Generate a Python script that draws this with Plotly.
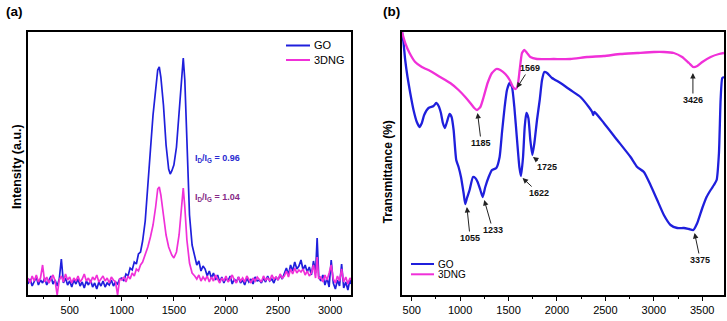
import plotly.graph_objects as go

# ---------------- Panel (a): Raman ----------------
raman_x = ([100, 120, 140, 160, 180, 200, 220, 240, 260, 280, 300, 320, 340, 360, 380, 400, 420, 440,
            460, 480, 500, 520, 540, 560, 580, 600, 620, 640, 660, 680, 700, 720, 740, 760, 780, 800,
            820, 840, 860, 880, 900, 920, 940, 960, 980]
           + [1000, 1020, 1040, 1060, 1080, 1100, 1120, 1140, 1160, 1180, 1200, 1225, 1250, 1275, 1300,
              1325, 1345, 1360, 1375, 1400, 1425, 1450, 1465, 1480, 1500, 1525, 1550, 1575, 1590, 1605,
              1625, 1650, 1675, 1700, 1720, 1740, 1760, 1780]
           + [1800, 1820, 1840, 1860, 1880, 1900, 1920, 1940, 1960, 1980, 2000, 2020, 2040, 2060, 2080,
              2100, 2120, 2140, 2160, 2180, 2200, 2220, 2240, 2260, 2280, 2300, 2320, 2340, 2360, 2380,
              2400, 2420, 2440, 2460, 2480, 2500, 2520, 2540]
           + [2560, 2580, 2600, 2620, 2640, 2660, 2680, 2700, 2720, 2740, 2760, 2780, 2800, 2820, 2840]
           + [2860, 2875, 2890]
           + [2910, 2930, 2950, 2970, 2990, 3010, 3030, 3050, 3070, 3090, 3110, 3130, 3150, 3170, 3190,
              3200])

raman_go = ([11, 16, 9, 14, 18, 10, 15, 12, 17, 10, 14, 19, 11, 15, 9, 16, 36, 12,
             17, 10, 14, 8, 15, 11, 16, 9, 13, 7, 14, 10, 15, 8, 12, 6, 13, 9,
             14, 8, 12, 10, 15, 9, 13, 11, 16]
            + [17, 14, 21, 19, 27, 25, 33, 31, 41, 43, 54, 74, 105, 145, 180,
               207, 225, 228, 218, 190, 150, 126, 121, 124, 130, 148, 185, 225, 237, 215,
               148, 80, 50, 38, 30, 34, 24, 29]
            + [26, 19, 24, 17, 22, 15, 20, 13, 18, 12, 17, 14, 19, 11, 16,
               13, 18, 12, 15, 10, 17, 13, 16, 11, 18, 14, 15, 12, 17, 13,
               19, 14, 16, 12, 18, 15, 20, 16]
            + [22, 27, 20, 30, 24, 33, 26, 29, 35, 25, 30, 23, 28, 20, 34]
            + [22, 57, 19]
            + [14, 20, 10, 17, 8, 35, 12, 6, 15, 9, 31, 7, 13, 5, 16,
               11])

raman_3dng = ([17, 12, 19, 14, 20, 13, 17, 30, 13, 18, 12, 16, 20, 14, 0, 15, 19, 13,
               21, 15, 18, 12, 17, 14, 19, 13, 16, 21, 14, 17, 12, 18, 15, 20, 13, 16,
               19, 14, 17, 12, 18, 15, 13, 0, 16]
              + [15, 18, 13, 19, 16, 22, 19, 26, 24, 30, 33, 40, 48, 58, 70,
                 88, 106, 108, 100, 80, 60, 48, 43, 40, 37, 43, 60, 92, 107, 88,
                 55, 32, 22, 19, 16, 20, 14, 18]
              + [15, 19, 13, 18, 14, 20, 16, 12, 17, 14, 19, 13, 16, 20, 15,
                 12, 18, 14, 17, 13, 19, 15, 12, 17, 14, 18, 16, 13, 19, 15,
                 17, 14, 20, 16, 18, 15, 21, 17]
              + [19, 24, 18, 26, 21, 27, 22, 25, 23, 26, 20, 24, 19, 22, 30]
              + [17, 38, 16]
              + [18, 13, 20, 15, 22, 30, 16, 12, 19, 14, 26, 13, 18, 11, 17,
                 15])

# ---------------- Panel (b): FTIR ----------------
ftir_go_x = [400, 416, 433, 457, 485, 519, 553, 581, 605, 629, 674, 726, 753, 778, 802, 822, 843,
             864, 891, 912, 933, 960, 984, 1009, 1036, 1053, 1071, 1098, 1133, 1157, 1181, 1209,
             1233, 1260, 1295, 1329, 1374, 1408, 1432, 1460, 1484, 1512, 1536, 1560, 1588, 1612,
             1629, 1650, 1667, 1684, 1705, 1725, 1746, 1767, 1794, 1822, 1846, 1870, 1898, 1949,
             2036, 2139, 2243, 2329, 2364, 2374, 2387, 2484, 2622, 2760, 2829, 2898, 2966, 3035,
             3104, 3173, 3242, 3311, 3363, 3408, 3449, 3501, 3545, 3587, 3621, 3649, 3673, 3690,
             3707, 3725]
ftir_go_y = [263, 252, 235, 218, 202, 185, 173, 168, 172, 180, 187, 189, 192, 189, 182, 172, 167,
             173, 181, 178, 165, 135, 128, 118, 102, 91, 97, 105, 118, 117, 113, 105,
             98, 108, 118, 125, 127, 138, 162, 188, 205, 212, 208, 188, 155, 128,
             119, 138, 168, 182, 177, 155, 140, 152, 175, 195, 215, 223, 222, 217,
             212, 205, 198, 188, 183, 180, 183, 172, 155, 138, 128, 123, 110, 95,
             80, 70, 67, 67, 66, 65, 72, 87, 98, 105, 110, 115, 142, 195,
             217, 218]

ftir_3dng_x = [400, 433, 478, 536, 605, 691, 795, 898, 984, 1053, 1105, 1146, 1174, 1209, 1243,
               1284, 1329, 1374, 1415, 1467, 1512, 1546, 1574, 1595, 1615, 1639, 1663, 1691, 1725,
               1794, 1967, 2139, 2311, 2484, 2656, 2829, 3001, 3104, 3207, 3293, 3363, 3408, 3449,
               3501, 3587, 3673, 3725]
ftir_3dng_y = [263, 252, 242, 233, 228, 224, 218, 212, 205, 198, 192, 187, 185, 188, 198,
               212, 222, 226, 225, 221, 215, 208, 206, 210, 225, 242, 245, 242, 238,
               236, 236, 236, 238, 239, 241, 242, 243, 243, 242, 238, 232, 228, 229,
               233, 238, 241, 242]

# peak labels for FTIR: label, arrow-head position, text position
peak_labels = ["1185", "1569", "1725", "1622", "1055", "1233", "3375", "3426"]
peak_head_x = [1180, 1586, 1752, 1645, 1070, 1249, 3421, 3404]
peak_head_y = [182, 207, 138, 117, 88, 95, 62, 222]
peak_text_x = [1218, 1717, 1896, 1810, 1104, 1338, 3480, 3404]
peak_text_y = [152, 227, 128, 102, 57, 65, 35, 195]

series_names = ["GO", "3DNG"]
x_ticks_a = [500, 1000, 1500, 2000, 2500, 3000]
x_ticks_b = [500, 1000, 1500, 2000, 2500, 3000, 3500]

BLUE = "#1f1fdc"
MAGENTA = "#f030d8"
FONT = "Liberation Sans, Arial, sans-serif"

fig = go.Figure()
fig.add_trace(go.Scatter(x=raman_x, y=raman_go, mode="lines", name=series_names[0],
                         line=dict(color=BLUE, width=1.7), xaxis="x", yaxis="y", showlegend=False))
fig.add_trace(go.Scatter(x=raman_x, y=raman_3dng, mode="lines", name=series_names[1],
                         line=dict(color=MAGENTA, width=1.7), xaxis="x", yaxis="y", showlegend=False))
fig.add_trace(go.Scatter(x=ftir_go_x, y=ftir_go_y, mode="lines", name=series_names[0],
                         line=dict(color=BLUE, width=2.3, shape="spline", smoothing=0.5),
                         xaxis="x2", yaxis="y2", showlegend=False))
fig.add_trace(go.Scatter(x=ftir_3dng_x, y=ftir_3dng_y, mode="lines", name=series_names[1],
                         line=dict(color=MAGENTA, width=2.3, shape="spline", smoothing=0.5),
                         xaxis="x2", yaxis="y2", showlegend=False))

ydom = [1 - 295 / 321, 1 - 32 / 321]
xax_common = dict(showline=True, linecolor="black", linewidth=1.5, mirror=True, showgrid=False,
                  zeroline=False, ticks="outside", ticklen=4, tickwidth=1.2, tickcolor="black",
                  tickfont=dict(family=FONT, size=11, color="black"),
                  minor=dict(ticks="outside", ticklen=2.5, tickwidth=1, tickcolor="black", dtick=250))
yax_common = dict(showline=True, linecolor="black", linewidth=1.5, mirror=True, showgrid=False,
                  zeroline=False, showticklabels=False, ticks="", range=[0, 263], domain=ydom)

fig.update_layout(
    width=727, height=321,
    margin=dict(l=0, r=0, t=0, b=0),
    paper_bgcolor="white", plot_bgcolor="white",
    font=dict(family=FONT, color="black"),
    xaxis=dict(domain=[28 / 727, 351 / 727], range=[100, 3200], tickvals=x_ticks_a, **xax_common),
    yaxis=dict(anchor="x", **yax_common),
    xaxis2=dict(domain=[402 / 727, 724 / 727], range=[400, 3725], tickvals=x_ticks_b, anchor="y2",
                **xax_common),
    yaxis2=dict(anchor="x2", **yax_common),
)


def px_x(p):
    return p / 727


def px_y(p):
    return 1 - p / 321


ann = []
ann.append(dict(text="<b>(a)</b>", x=px_x(14.7), y=px_y(11.7), xref="paper", yref="paper",
                xanchor="center", yanchor="middle", showarrow=False, font=dict(size=13.5, family=FONT)))
ann.append(dict(text="<b>(b)</b>", x=px_x(391), y=px_y(11.7), xref="paper", yref="paper",
                xanchor="center", yanchor="middle", showarrow=False, font=dict(size=13.5, family=FONT)))
ann.append(dict(text="<b>Intensity (a.u.)</b>", x=px_x(17), y=px_y(167), xref="paper", yref="paper",
                xanchor="center", yanchor="middle", textangle=-90, showarrow=False,
                font=dict(size=12.5, family=FONT)))
ann.append(dict(text="<b>Transmittance (%)</b>", x=px_x(387), y=px_y(172.5), xref="paper",
                yref="paper", xanchor="center", yanchor="middle", textangle=-90, showarrow=False,
                font=dict(size=12, family=FONT)))
ann.append(dict(text="<b>I<sub>D</sub>/I<sub>G</sub> = 0.96</b>", x=1688, y=137, xref="x", yref="y",
                xanchor="left", yanchor="middle", showarrow=False,
                font=dict(size=9, family=FONT, color="#2a2ad0")))
ann.append(dict(text="<b>I<sub>D</sub>/I<sub>G</sub> = 1.04</b>", x=1688, y=98, xref="x", yref="y",
                xanchor="left", yanchor="middle", showarrow=False,
                font=dict(size=9, family=FONT, color="#862a86")))
for lab, hx, hy, tx, ty in zip(peak_labels, peak_head_x, peak_head_y, peak_text_x, peak_text_y):
    ann.append(dict(text="<b>" + lab + "</b>", x=hx, y=hy, ax=tx, ay=ty, xref="x2", yref="y2",
                    axref="x2", ayref="y2", showarrow=True, arrowhead=2, arrowsize=1.1, arrowwidth=1,
                    arrowcolor="#222", standoff=0, font=dict(size=9, family=FONT, color="#111")))

# legends (one per panel)
shapes = []
leg_a_y = [45.5, 60]
leg_b_y = [264, 274.3]
colors = [BLUE, MAGENTA]
for name, yy, c in zip(series_names, leg_a_y, colors):
    shapes.append(dict(type="line", xref="paper", yref="paper", x0=px_x(286), x1=px_x(310),
                       y0=px_y(yy), y1=px_y(yy), line=dict(color=c, width=2)))
    ann.append(dict(text=name, x=px_x(312), y=px_y(yy), xref="paper", yref="paper",
                    xanchor="left", yanchor="middle", showarrow=False, font=dict(size=11, family=FONT)))
for name, yy, c in zip(series_names, leg_b_y, colors):
    shapes.append(dict(type="line", xref="paper", yref="paper", x0=px_x(411), x1=px_x(434),
                       y0=px_y(yy), y1=px_y(yy), line=dict(color=c, width=2)))
    ann.append(dict(text=name, x=px_x(436), y=px_y(yy), xref="paper", yref="paper",
                    xanchor="left", yanchor="middle", showarrow=False, font=dict(size=10, family=FONT)))

fig.update_layout(annotations=ann, shapes=shapes)
fig.write_html("out.html", config={"displayModeBar": False},
               post_script="document.body.style.margin='0';document.body.style.overflow='hidden';")
